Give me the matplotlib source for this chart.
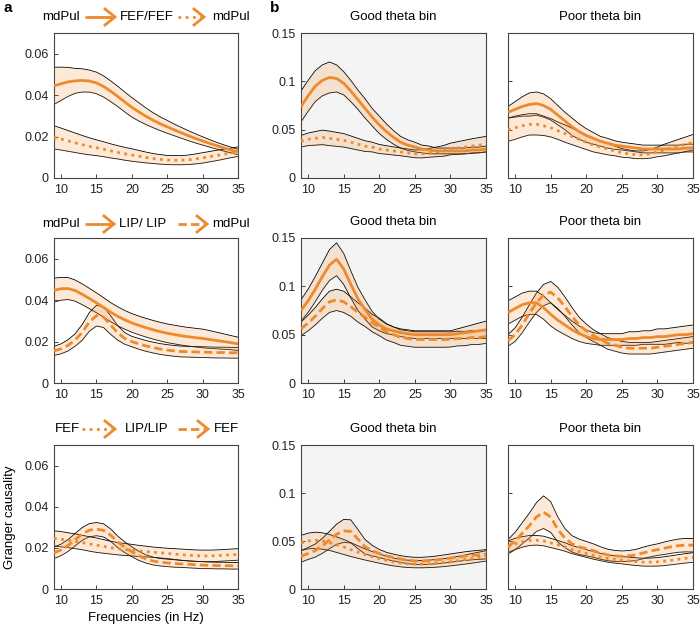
import numpy as np
import matplotlib
matplotlib.use('Agg')
import matplotlib.pyplot as plt
from matplotlib.lines import Line2D

plt.rcParams['font.family'] = ['Liberation Sans', 'DejaVu Sans']

freqs = np.arange(9, 36)

# row 1 : mdPul -> FEF (solid), FEF -> mdPul (dotted)
pul_fef_all = [0.0445, 0.0455, 0.0464, 0.0469, 0.0471, 0.0468, 0.0459, 0.0442, 0.0419, 0.0394, 0.0367, 0.0341, 0.0319, 0.0298,
               0.0279, 0.0262, 0.0247, 0.0232, 0.0218, 0.0204, 0.0191, 0.0179, 0.0167, 0.0156, 0.0145, 0.0135, 0.0126]
pul_fef_all_sem = [0.0090, 0.0080, 0.0070, 0.0060, 0.0056, 0.0053, 0.0052, 0.0051, 0.0050, 0.0049, 0.0048, 0.0047, 0.0044, 0.0040,
                   0.0036, 0.0033, 0.0031, 0.0028, 0.0026, 0.0024, 0.0022, 0.0020, 0.0018, 0.0016, 0.0015, 0.0014, 0.0013]
fef_pul_all = [0.0196, 0.0188, 0.0179, 0.0170, 0.0161, 0.0153, 0.0146, 0.0139, 0.0131, 0.0124, 0.0117, 0.0111, 0.0105, 0.0099,
               0.0094, 0.0090, 0.0087, 0.0086, 0.0086, 0.0088, 0.0092, 0.0097, 0.0103, 0.0109, 0.0115, 0.0121, 0.0127]
fef_pul_all_sem = [0.0056, 0.0053, 0.0050, 0.0047, 0.0044, 0.0041, 0.0038, 0.0036, 0.0034, 0.0032, 0.0031, 0.0030, 0.0028, 0.0026,
                   0.0024, 0.0023, 0.0022, 0.0022, 0.0022, 0.0023, 0.0024, 0.0025, 0.0025, 0.0025, 0.0024, 0.0023, 0.0023]
pul_fef_good = [0.074, 0.085, 0.095, 0.101, 0.104, 0.103, 0.098, 0.090, 0.081, 0.072, 0.063, 0.055, 0.048, 0.042,
                0.037, 0.034, 0.032, 0.030, 0.029, 0.028, 0.028, 0.028, 0.028, 0.028, 0.029, 0.029, 0.030]
pul_fef_good_sem = [0.016, 0.016, 0.016, 0.016, 0.016, 0.014, 0.012, 0.011, 0.010, 0.010, 0.009, 0.009, 0.008, 0.007,
                    0.006, 0.0055, 0.005, 0.004, 0.004, 0.003, 0.003, 0.003, 0.003, 0.003, 0.003, 0.003, 0.003]
fef_pul_good = [0.038, 0.040, 0.041, 0.042, 0.041, 0.040, 0.039, 0.037, 0.035, 0.033, 0.032, 0.030, 0.029, 0.028,
                0.027, 0.026, 0.025, 0.025, 0.026, 0.027, 0.028, 0.030, 0.031, 0.032, 0.033, 0.034, 0.035]
fef_pul_good_sem = [0.006, 0.0065, 0.007, 0.0075, 0.0075, 0.0072, 0.007, 0.0065, 0.006, 0.0055, 0.005, 0.0047, 0.0044, 0.0042,
                    0.004, 0.004, 0.004, 0.0042, 0.0045, 0.005, 0.0055, 0.006, 0.0065, 0.007, 0.0075, 0.0078, 0.008]
pul_fef_poor = [0.068, 0.071, 0.074, 0.076, 0.077, 0.075, 0.071, 0.065, 0.059, 0.053, 0.048, 0.044, 0.041, 0.038,
                0.036, 0.034, 0.033, 0.032, 0.031, 0.030, 0.030, 0.030, 0.030, 0.030, 0.030, 0.031, 0.031]
pul_fef_poor_sem = [0.006, 0.008, 0.010, 0.012, 0.012, 0.012, 0.011, 0.010, 0.009, 0.009, 0.008, 0.007, 0.006, 0.005,
                    0.005, 0.0045, 0.004, 0.004, 0.004, 0.004, 0.004, 0.004, 0.004, 0.004, 0.004, 0.004, 0.004]
fef_pul_poor = [0.050, 0.052, 0.054, 0.0555, 0.0555, 0.054, 0.052, 0.049, 0.046, 0.043, 0.040, 0.037, 0.034, 0.032,
                0.030, 0.028, 0.026, 0.025, 0.024, 0.024, 0.025, 0.027, 0.029, 0.031, 0.033, 0.035, 0.037]
fef_pul_poor_sem = [0.012, 0.012, 0.0115, 0.011, 0.011, 0.010, 0.0095, 0.009, 0.009, 0.0085, 0.008, 0.0075, 0.007, 0.0065,
                    0.006, 0.005, 0.0045, 0.004, 0.004, 0.004, 0.0045, 0.005, 0.006, 0.0065, 0.007, 0.0075, 0.008]

# row 2 : mdPul -> LIP (solid), LIP -> mdPul (dashed)
pul_lip_all = [0.0448, 0.0455, 0.0456, 0.0446, 0.0428, 0.0408, 0.0387, 0.0365, 0.0342, 0.0322, 0.0305, 0.0290, 0.0278, 0.0267,
               0.0257, 0.0248, 0.0240, 0.0234, 0.0228, 0.0223, 0.0219, 0.0215, 0.0210, 0.0205, 0.0200, 0.0195, 0.0189]
pul_lip_all_sem = [0.0058, 0.0055, 0.0053, 0.0051, 0.0050, 0.0049, 0.0048, 0.0047, 0.0046, 0.0046, 0.0045, 0.0045, 0.0045, 0.0045,
                   0.0045, 0.0045, 0.0045, 0.0045, 0.0045, 0.0045, 0.0045, 0.0045, 0.0043, 0.0040, 0.0037, 0.0034, 0.0032]
lip_pul_all = [0.0155, 0.0165, 0.0182, 0.0208, 0.0245, 0.0295, 0.0325, 0.0318, 0.0280, 0.0242, 0.0215, 0.0200, 0.0189, 0.0179,
               0.0171, 0.0164, 0.0159, 0.0155, 0.0152, 0.0151, 0.0150, 0.0149, 0.0148, 0.0147, 0.0147, 0.0146, 0.0146]
lip_pul_all_sem = [0.0022, 0.0024, 0.0027, 0.0030, 0.0038, 0.0045, 0.0050, 0.0050, 0.0045, 0.0035, 0.0028, 0.0025, 0.0026, 0.0026,
                   0.0026, 0.0026, 0.0026, 0.0026, 0.0026, 0.0026, 0.0026, 0.0026, 0.0026, 0.0026, 0.0026, 0.0026, 0.0026]
pul_lip_good = [0.075, 0.085, 0.097, 0.110, 0.122, 0.128, 0.118, 0.102, 0.087, 0.076, 0.066, 0.060, 0.056, 0.054,
                0.052, 0.051, 0.050, 0.050, 0.050, 0.050, 0.050, 0.050, 0.051, 0.052, 0.053, 0.054, 0.055]
pul_lip_good_sem = [0.011, 0.012, 0.013, 0.014, 0.016, 0.017, 0.016, 0.014, 0.012, 0.010, 0.008, 0.006, 0.005, 0.004,
                    0.004, 0.004, 0.004, 0.004, 0.004, 0.004, 0.004, 0.004, 0.005, 0.006, 0.007, 0.008, 0.009]
lip_pul_good = [0.056, 0.062, 0.069, 0.077, 0.084, 0.086, 0.084, 0.079, 0.073, 0.068, 0.062, 0.058, 0.053, 0.050,
                0.047, 0.046, 0.045, 0.045, 0.045, 0.045, 0.045, 0.045, 0.046, 0.046, 0.047, 0.047, 0.048]
lip_pul_good_sem = [0.007, 0.008, 0.009, 0.010, 0.011, 0.011, 0.011, 0.010, 0.010, 0.0095, 0.009, 0.009, 0.0085, 0.008,
                    0.008, 0.008, 0.008, 0.008, 0.008, 0.008, 0.008, 0.0078, 0.0076, 0.0074, 0.0072, 0.0071, 0.007]
pul_lip_poor = [0.073, 0.077, 0.081, 0.083, 0.083, 0.078, 0.071, 0.065, 0.060, 0.055, 0.051, 0.048, 0.046, 0.045,
                0.045, 0.045, 0.045, 0.046, 0.046, 0.047, 0.047, 0.048, 0.048, 0.049, 0.050, 0.050, 0.051]
pul_lip_poor_sem = [0.012, 0.012, 0.012, 0.012, 0.012, 0.012, 0.012, 0.011, 0.010, 0.009, 0.008, 0.007, 0.006, 0.006,
                    0.006, 0.006, 0.006, 0.007, 0.007, 0.007, 0.007, 0.008, 0.008, 0.008, 0.008, 0.009, 0.009]
lip_pul_poor = [0.044, 0.050, 0.060, 0.072, 0.083, 0.091, 0.094, 0.088, 0.079, 0.069, 0.060, 0.054, 0.049, 0.045,
                0.041, 0.039, 0.037, 0.036, 0.036, 0.036, 0.036, 0.037, 0.038, 0.039, 0.040, 0.041, 0.042]
lip_pul_poor_sem = [0.006, 0.007, 0.008, 0.009, 0.010, 0.011, 0.011, 0.011, 0.010, 0.009, 0.008, 0.007, 0.006, 0.006,
                    0.006, 0.006, 0.006, 0.006, 0.006, 0.006, 0.006, 0.006, 0.006, 0.006, 0.006, 0.006, 0.006]

# row 3 : FEF -> LIP (dotted), LIP -> FEF (dashed)
fef_lip_all = [0.0246, 0.0242, 0.0237, 0.0232, 0.0226, 0.0219, 0.0213, 0.0207, 0.0201, 0.0196, 0.0192, 0.0189, 0.0185, 0.0182,
               0.0179, 0.0176, 0.0173, 0.0170, 0.0167, 0.0164, 0.0162, 0.0161, 0.0161, 0.0162, 0.0164, 0.0166, 0.0168]
fef_lip_all_sem = [0.0037, 0.0037, 0.0036, 0.0036, 0.0035, 0.0035, 0.0035, 0.0033, 0.0031, 0.0030, 0.0029, 0.0028, 0.0027, 0.0026,
                   0.0025, 0.0025, 0.0025, 0.0026, 0.0027, 0.0028, 0.0028, 0.0028, 0.0028, 0.0028, 0.0028, 0.0028, 0.0028]
lip_fef_all = [0.0176, 0.0190, 0.0212, 0.0240, 0.0268, 0.0286, 0.0291, 0.0285, 0.0262, 0.0229, 0.0203, 0.0181, 0.0161, 0.0146,
               0.0136, 0.0130, 0.0127, 0.0124, 0.0122, 0.0120, 0.0118, 0.0116, 0.0115, 0.0114, 0.0114, 0.0113, 0.0113]
lip_fef_all_sem = [0.0028, 0.0028, 0.0029, 0.0030, 0.0031, 0.0032, 0.0032, 0.0032, 0.0030, 0.0028, 0.0026, 0.0024, 0.0022, 0.0020,
                   0.0019, 0.0018, 0.0018, 0.0018, 0.0017, 0.0017, 0.0017, 0.0017, 0.0016, 0.0016, 0.0016, 0.0016, 0.0016]
fef_lip_good = [0.048, 0.050, 0.0507, 0.050, 0.0485, 0.0462, 0.0438, 0.0411, 0.0385, 0.0360, 0.0338, 0.0317, 0.0298, 0.0282,
                0.0270, 0.0262, 0.0259, 0.0259, 0.0262, 0.0267, 0.0274, 0.0283, 0.0294, 0.0306, 0.0319, 0.0332, 0.0345]
fef_lip_good_sem = [0.0078, 0.0082, 0.0085, 0.0085, 0.0083, 0.0081, 0.0078, 0.0072, 0.0065, 0.0058, 0.0052, 0.0048, 0.0044, 0.0041,
                    0.0039, 0.0038, 0.0038, 0.0038, 0.0039, 0.0040, 0.0041, 0.0042, 0.0044, 0.0047, 0.0050, 0.0052, 0.0054]
lip_fef_good = [0.034, 0.037, 0.040, 0.045, 0.051, 0.057, 0.0605, 0.060, 0.052, 0.044, 0.040, 0.037, 0.0345, 0.0328,
                0.0312, 0.0300, 0.0293, 0.0292, 0.0296, 0.0303, 0.0312, 0.0322, 0.0332, 0.0342, 0.0350, 0.0356, 0.0362]
lip_fef_good_sem = [0.0060, 0.0062, 0.0068, 0.0078, 0.0090, 0.0105, 0.0120, 0.0120, 0.0100, 0.0075, 0.0055, 0.0042, 0.0037, 0.0035,
                    0.0035, 0.0036, 0.0037, 0.0038, 0.0039, 0.0040, 0.0042, 0.0043, 0.0044, 0.0045, 0.0046, 0.0047, 0.0048]
fef_lip_poor = [0.044, 0.047, 0.049, 0.0505, 0.0508, 0.050, 0.048, 0.046, 0.0438, 0.041, 0.039, 0.037, 0.035, 0.0333,
                0.0318, 0.0308, 0.0300, 0.0292, 0.0285, 0.0280, 0.0280, 0.0283, 0.0290, 0.0300, 0.0310, 0.0320, 0.0328]
fef_lip_poor_sem = [0.0060, 0.0058, 0.0055, 0.0052, 0.0050, 0.0050, 0.0048, 0.0046, 0.0044, 0.0042, 0.0041, 0.0040, 0.0039, 0.0038,
                    0.0038, 0.0038, 0.0038, 0.0039, 0.0040, 0.0041, 0.0042, 0.0044, 0.0046, 0.0047, 0.0048, 0.0049, 0.0050]
lip_fef_poor = [0.044, 0.050, 0.058, 0.066, 0.075, 0.080, 0.075, 0.062, 0.053, 0.047, 0.044, 0.042, 0.040, 0.0375,
                0.0355, 0.0345, 0.0341, 0.0345, 0.0355, 0.0376, 0.0395, 0.0410, 0.0425, 0.0440, 0.0452, 0.0457, 0.0456]
lip_fef_poor_sem = [0.0076, 0.0090, 0.0110, 0.0130, 0.0150, 0.0170, 0.0160, 0.0130, 0.0100, 0.0085, 0.0080, 0.0075, 0.0070, 0.0065,
                    0.0060, 0.0057, 0.0055, 0.0056, 0.0058, 0.0060, 0.0060, 0.0060, 0.0065, 0.0067, 0.0069, 0.0070, 0.0070]

ORANGE = '#ef8a2c'
LS = {'solid': '-', 'dotted': (0, (1, 1.6)), 'dashed': (0, (3, 1.5))}

W, H = 700, 626
fig = plt.figure(figsize=(W / 100, H / 100), dpi=100)


def px_axes(left, top, right, bottom, **kw):
    return fig.add_axes([left / W, 1 - bottom / H, (right - left) / W, (bottom - top) / H], **kw)


def band(ax, mean, sem, style):
    mean = np.asarray(mean)
    sem = np.asarray(sem)
    ax.plot(freqs, mean + sem, color='k', lw=0.6, zorder=2)
    ax.plot(freqs, mean - sem, color='k', lw=0.6, zorder=2)
    ax.fill_between(freqs, mean - sem, mean + sem, color=ORANGE, alpha=0.18, lw=0, zorder=3)


def mean_line(ax, mean, style):
    ax.plot(freqs, mean, color=ORANGE, lw=2, ls=LS[style], zorder=4,
            solid_capstyle='butt', dash_capstyle='butt')


def style_axes(ax, kind, labels=True):
    ax.set_xlim(9, 35)
    ax.set_xticks([10, 15, 20, 25, 30, 35])
    if kind == 'a':
        ax.set_ylim(0, 0.07)
        ax.set_yticks([0, 0.02, 0.04, 0.06])
        ax.set_yticklabels(['0', '0.02', '0.04', '0.06'])
    else:
        ax.set_ylim(0, 0.15)
        ax.set_yticks([0, 0.05, 0.1, 0.15])
        ax.set_yticklabels(['0', '0.05', '0.1', '0.15'] if labels else [])
    ax.tick_params(direction='in', length=3, width=0.6, labelsize=9, pad=4, colors='#222222')
    for sp in ax.spines.values():
        sp.set_color('#444444')
        sp.set_linewidth(0.8)


def arrow(x0, x1, y, style):
    # figure-pixel arrow glyph used in the row headers
    fig.add_artist(Line2D([x0 / W, (x1 - 3) / W], [1 - y / H, 1 - y / H], color=ORANGE, lw=2,
                          ls=LS[style], solid_capstyle='butt', dash_capstyle='butt'))
    fig.add_artist(Line2D([(x1 - 10) / W, x1 / W, (x1 - 10) / W],
                          [1 - (y - 8) / H, 1 - y / H, 1 - (y + 8) / H],
                          color=ORANGE, lw=2, solid_joinstyle='miter'))


def header(y, words, arrows):
    for xc, word in words:
        fig.text(xc / W, 1 - y / H, word, ha='center', va='center', fontsize=9.5)
    for x0, x1, style in arrows:
        arrow(x0, x1, y, style)


rows = [
    (33, 178, [(pul_fef_all, pul_fef_all_sem, 'solid'), (fef_pul_all, fef_pul_all_sem, 'dotted')],
     [(pul_fef_good, pul_fef_good_sem, 'solid'), (fef_pul_good, fef_pul_good_sem, 'dotted')],
     [(pul_fef_poor, pul_fef_poor_sem, 'solid'), (fef_pul_poor, fef_pul_poor_sem, 'dotted')]),
    (238, 383, [(pul_lip_all, pul_lip_all_sem, 'solid'), (lip_pul_all, lip_pul_all_sem, 'dashed')],
     [(pul_lip_good, pul_lip_good_sem, 'solid'), (lip_pul_good, lip_pul_good_sem, 'dashed')],
     [(pul_lip_poor, pul_lip_poor_sem, 'solid'), (lip_pul_poor, lip_pul_poor_sem, 'dashed')]),
    (445, 589, [(fef_lip_all, fef_lip_all_sem, 'dotted'), (lip_fef_all, lip_fef_all_sem, 'dashed')],
     [(fef_lip_good, fef_lip_good_sem, 'dotted'), (lip_fef_good, lip_fef_good_sem, 'dashed')],
     [(fef_lip_poor, fef_lip_poor_sem, 'dotted'), (lip_fef_poor, lip_fef_poor_sem, 'dashed')]),
]

for i, (top, bottom, s_all, s_good, s_poor) in enumerate(rows):
    ax_a = px_axes(54, top, 238, bottom)
    ax_g = px_axes(301, top, 486, bottom, facecolor='#f4f4f4')
    ax_p = px_axes(508, top, 693, bottom)
    for ax, series in ((ax_a, s_all), (ax_g, s_good), (ax_p, s_poor)):
        for mean, sem, style in series:
            band(ax, mean, sem, style)
        for mean, sem, style in series:
            mean_line(ax, mean, style)
    style_axes(ax_a, 'a')
    style_axes(ax_g, 'b')
    style_axes(ax_p, 'b', labels=False)
    ty = top - 16
    fig.text((301 + 486) / 2 / W, 1 - ty / H, 'Good theta bin', ha='center', va='center', fontsize=9.5)
    fig.text((508 + 693) / 2 / W, 1 - ty / H, 'Poor theta bin', ha='center', va='center', fontsize=9.5)
    if i == 2:
        ax_a.set_xlabel('Frequencies (in Hz)', fontsize=9.5, labelpad=4)
        ax_a.set_ylabel('Granger causality', fontsize=9.5, labelpad=6)

header(17, [(61, 'mdPul'), (147, 'FEF/FEF'), (231, 'mdPul')], [(85, 115, 'solid'), (178, 204, 'dotted')])
header(224, [(61, 'mdPul'), (143, 'LIP/ LIP'), (231, 'mdPul')], [(85, 114, 'solid'), (178, 207, 'dashed')])
header(429, [(67, 'FEF'), (147, 'LIP/LIP'), (226, 'FEF')], [(82, 115, 'dotted'), (178, 208, 'dashed')])

fig.text(3 / W, 1 - 8 / H, 'a', fontsize=11, fontweight='bold', ha='left', va='center')
fig.text(270 / W, 1 - 8 / H, 'b', fontsize=11, fontweight='bold', ha='left', va='center')

fig.savefig('out.png', dpi=100)
